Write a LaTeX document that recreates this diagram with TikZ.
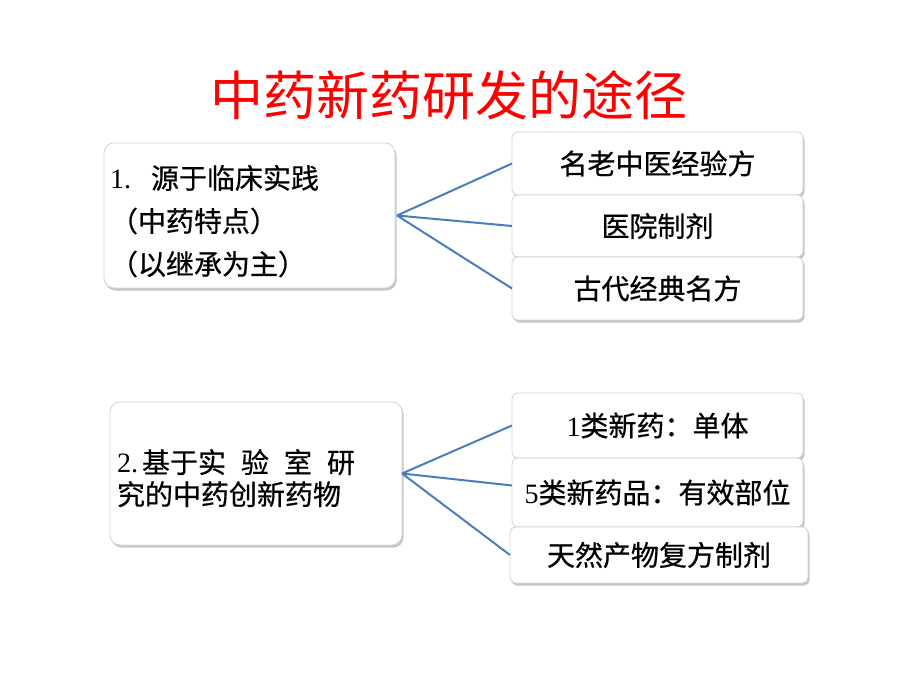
\documentclass[tikz,border=0pt]{standalone}
\usepackage{fontspec}
\setmainfont{Liberation Serif}
\newfontfamily\cjk{Noto Sans CJK SC}
\newfontfamily\cjkmid[FakeBold=0.6]{Noto Sans CJK SC}
\usetikzlibrary{shadows}
\definecolor{linkblue}{HTML}{4A7EBB}
\definecolor{boxline}{HTML}{D2D2D2}

\begin{document}
\begin{tikzpicture}[x=1pt, y=-1pt,
    title/.style={font=\cjk\fontsize{53}{60}\selectfont, text=red},
    srcbox/.style={draw=boxline, fill=white, line width=0.8pt, rounded corners=10pt,
      drop shadow={shadow xshift=1.5pt, shadow yshift=-2.5pt, opacity=0.45},
      align=left, inner ysep=0pt, outer sep=0pt},
    leafbox/.style={draw=boxline, fill=white, line width=0.8pt, rounded corners=6pt,
      drop shadow={shadow xshift=1.5pt, shadow yshift=-2.5pt, opacity=0.45},
      font=\cjkmid\fontsize{28}{34}\selectfont, minimum width=291pt,
      inner sep=0pt, outer sep=0pt},
    link/.style={draw=linkblue, line width=2pt}]
    \path[use as bounding box, fill=white] (0, 0) rectangle (900, 675);
    \node[title] (title) at (449, 95) {中药新药研发的途径};
    % first group
    \node[srcbox, minimum height=145pt, text width=279pt, inner xsep=6pt,
          font=\cjkmid\fontsize{28}{43}\selectfont] (src1) at (249.5, 215.5)
          {\rule{0pt}{35pt}{\rmfamily 1.}\hspace{20pt}源于临床实践\\（中药特点）\\（以继承为主）};
    \node[leafbox, minimum height=63pt] (leafA) at (657.5, 163.5) {名老中医经验方};
    \node[leafbox, minimum height=62pt] (leafB) at (657.5, 226) {医院制剂};
    \node[leafbox, minimum height=63pt] (leafC) at (657.5, 288.5) {古代经典名方};
    \coordinate (hub1) at ([xshift=2pt]src1.east);
    \draw[link] (hub1) -- (leafA.west) (hub1) -- (leafB.west) (hub1) -- (leafC.west);
    % second group
    \node[srcbox, minimum height=143pt, text width=278pt, inner xsep=7pt,
          font=\cjkmid\fontsize{28}{32}\selectfont] (src2) at (256, 473.5)
          {\rule{0pt}{33pt}{\rmfamily 2.}\hspace{4pt}基于实\hspace{15pt}验\hspace{15pt}室\hspace{15pt}研\\究的中药创新药物};
    \node[leafbox, minimum height=65pt] (leafD) at (657.5, 425.5) {{\rmfamily 1}类新药：单体};
    \node[leafbox, minimum height=69pt] (leafE) at (657.5, 492.5) {{\rmfamily 5}类新药品：有效部位};
    \node[leafbox, minimum height=56pt, minimum width=298pt] (leafF) at (659, 555) {天然产物复方制剂};
    \coordinate (hub2) at (src2.east);
    \draw[link] (hub2) -- (leafD.west) (hub2) -- ([yshift=7pt]leafE.west) (hub2) -- (leafF.west);
\end{tikzpicture}
\end{document}
